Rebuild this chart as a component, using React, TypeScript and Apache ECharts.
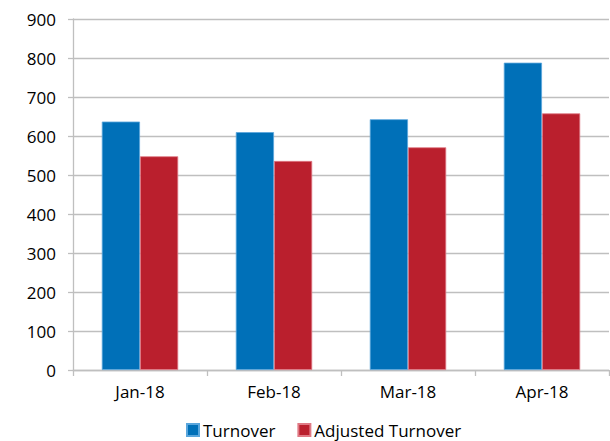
import React, { useEffect, useRef } from "react";
import * as echarts from "echarts";

const categories = ["Jan-18", "Feb-18", "Mar-18", "Apr-18"];
const turnover = [637, 610, 643, 788];
const adjustedTurnover = [548, 536, 571, 658];
const seriesNames = ["Turnover", "Adjusted Turnover"];

export default function App() {
  const ref = useRef<HTMLDivElement>(null);
  useEffect(() => {
    const chart = echarts.init(ref.current!, null, { renderer: "svg" });
    const font = "'Open Sans', sans-serif";
    chart.setOption({
      animation: false,
      backgroundColor: "#ffffff",
      textStyle: { fontFamily: font },
      grid: { left: 73, right: 1, top: 19, bottom: 71, containLabel: false },
      legend: {
        data: seriesNames,
        left: 186,
        top: 421,
        padding: 0,
        itemWidth: 12,
        itemHeight: 12,
        itemGap: 22,
        icon: "rect",
        textStyle: { fontFamily: font, fontSize: 17, lineHeight: 18, color: "#000", padding: [0, 0, 0, -1] },
      },
      xAxis: {
        type: "category",
        data: categories,
        axisLine: { lineStyle: { color: "#bfbfbf", width: 1.3 } },
        axisTick: { show: true, length: 6, lineStyle: { color: "#bfbfbf", width: 1.3 } },
        axisLabel: { fontFamily: font, fontSize: 17, color: "#000", margin: 13 },
      },
      yAxis: {
        type: "value",
        min: 0,
        max: 900,
        interval: 100,
        axisLine: { show: true, lineStyle: { color: "#bfbfbf", width: 1.3 } },
        axisTick: { show: true, length: 5, lineStyle: { color: "#bfbfbf", width: 1.3 } },
        splitLine: { lineStyle: { color: "#bfbfbf", width: 1.3 } },
        axisLabel: { fontFamily: font, fontSize: 17, color: "#000", margin: 17 },
      },
      series: [
        {
          name: seriesNames[0],
          type: "bar",
          data: turnover,
          barGap: "0%",
          barCategoryGap: "43%",
          itemStyle: { color: "#0070b8", borderColor: "#5aa6dc", borderWidth: 0.8 },
        },
        {
          name: seriesNames[1],
          type: "bar",
          data: adjustedTurnover,
          barGap: "0%",
          barCategoryGap: "43%",
          itemStyle: { color: "#ba1f2d", borderColor: "#e07a85", borderWidth: 0.8 },
        },
      ],
    });
    return () => chart.dispose();
  }, []);
  return <div ref={ref} style={{ width: 610, height: 441, position: "absolute", left: 0, top: 0 }} />;
}
